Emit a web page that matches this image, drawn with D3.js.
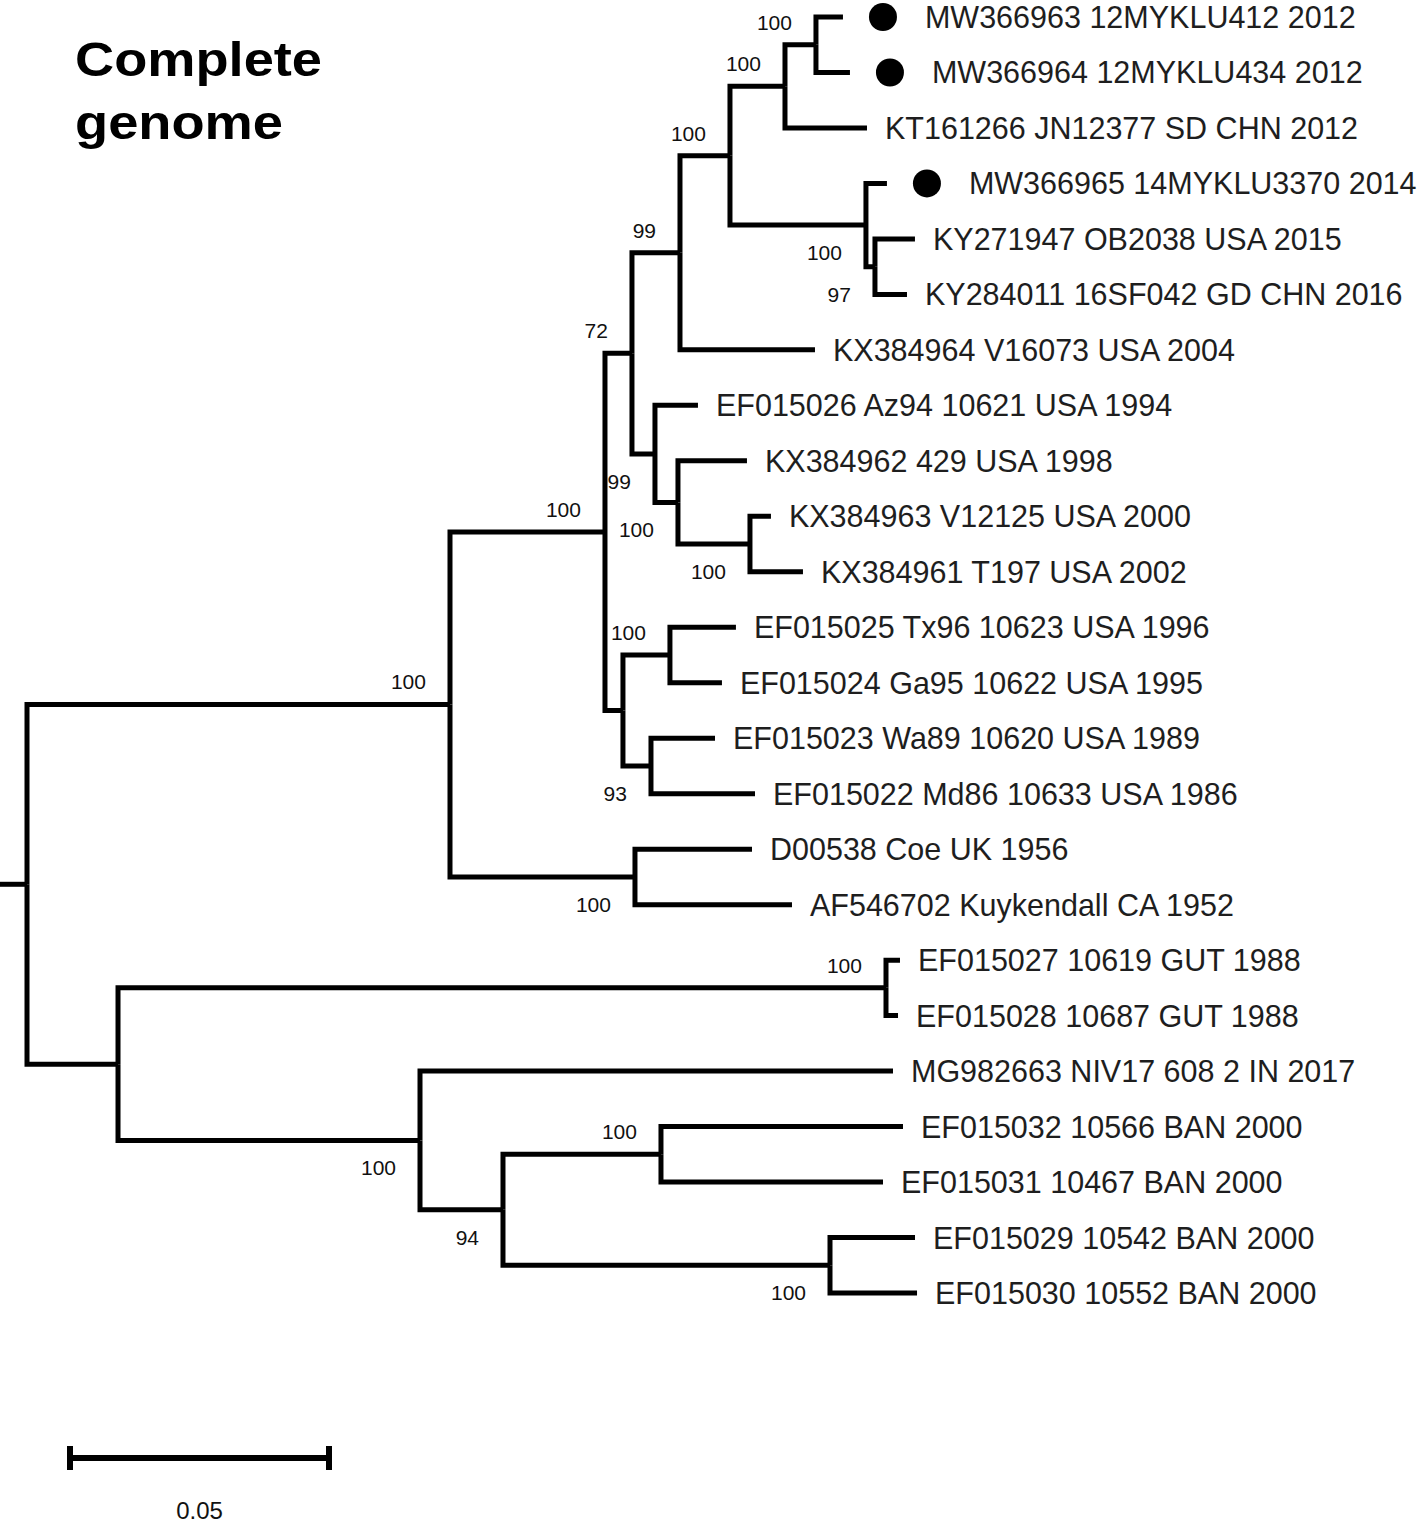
<!DOCTYPE html>
<html>
<head>
<meta charset="utf-8">
<script src="https://cdn.jsdelivr.net/npm/d3@7"></script>
<style>
  html, body { margin: 0; padding: 0; background: #fff; }
  svg { display: block; }
</style>
</head>
<body>
<svg id="chart" width="1418" height="1526"></svg>
<script>
// ---- DATA ----
const titleLines = ["Complete", "genome"];
const markedTaxa = ["MW366963 12MYKLU412 2012", "MW366964 12MYKLU434 2012", "MW366965 14MYKLU3370 2014"];
// [child, parent, branch length (subst./site), bootstrap]
const edges = [
  ["root", "", 0, null],
  ["A", "root", 0.08166, 100],
  ["B", "root", 0.01757, null],
  ["A1", "A", 0.02992, 100],
  ["Coe", "A", 0.03571, 100],
  ["C72", "A1", 0.00521, 72],
  ["G", "A1", 0.00347, null],
  ["C99", "C72", 0.00927, 99],
  ["Az", "C72", 0.00444, 99],
  ["C100a", "C99", 0.00965, 100],
  ["KX384964 V16073 USA 2004", "C99", 0.02606, null],
  ["C100b", "C100a", 0.01062, 100],
  ["C100c", "C100a", 0.02625, 100],
  ["MWpair", "C100b", 0.00598, 100],
  ["KT161266 JN12377 SD CHN 2012", "C100b", 0.01583, null],
  ["MW366963 12MYKLU412 2012", "MWpair", 0.00521, null],
  ["MW366964 12MYKLU434 2012", "MWpair", 0.00656, null],
  ["MW366965 14MYKLU3370 2014", "C100c", 0.00405, null],
  ["KYpair", "C100c", 0.00174, 97],
  ["KY271947 OB2038 USA 2015", "KYpair", 0.00772, null],
  ["KY284011 16SF042 GD CHN 2016", "KYpair", 0.00618, null],
  ["EF015026 Az94 10621 USA 1994", "Az", 0.00830, null],
  ["X1", "Az", 0.00444, 100],
  ["KX384962 429 USA 1998", "X1", 0.01332, null],
  ["X2", "X1", 0.01390, 100],
  ["KX384963 V12125 USA 2000", "X2", 0.00405, null],
  ["KX384961 T197 USA 2002", "X2", 0.01023, null],
  ["T", "G", 0.00907, 100],
  ["W", "G", 0.00541, 93],
  ["EF015025 Tx96 10623 USA 1996", "T", 0.01274, null],
  ["EF015024 Ga95 10622 USA 1995", "T", 0.01004, null],
  ["EF015023 Wa89 10620 USA 1989", "W", 0.01236, null],
  ["EF015022 Md86 10633 USA 1986", "W", 0.02008, null],
  ["D00538 Coe UK 1956", "Coe", 0.02259, null],
  ["AF546702 Kuykendall CA 1952", "Coe", 0.03031, null],
  ["GUT", "B", 0.14826, 100],
  ["I", "B", 0.05830, 100],
  ["EF015027 10619 GUT 1988", "GUT", 0.00270, null],
  ["EF015028 10687 GUT 1988", "GUT", 0.00232, null],
  ["MG982663 NIV17 608 2 IN 2017", "I", 0.09131, null],
  ["J", "I", 0.01602, 94],
  ["K", "J", 0.03050, 100],
  ["L", "J", 0.06313, 100],
  ["EF015032 10566 BAN 2000", "K", 0.04672, null],
  ["EF015031 10467 BAN 2000", "K", 0.04286, null],
  ["EF015029 10542 BAN 2000", "L", 0.01641, null],
  ["EF015030 10552 BAN 2000", "L", 0.01680, null]
];
const scaleBarValue = 0.05;
const scaleBarLabel = "0.05";

// ---- LAYOUT ----
const svg = d3.select("#chart");
const root = d3.stratify()
  .id(d => d[0])
  .parentId(d => d[1] || null)(edges);

root.eachBefore(n => { n.dist = n.parent ? n.parent.dist + n.data[2] : 0; });
const leaves = root.leaves();

const x = d3.scaleLinear().domain([0, scaleBarValue]).range([27, 27 + 259]);
const y = d3.scaleLinear().domain([0, leaves.length - 1]).range([17, 1293]);

leaves.forEach((l, i) => { l.py = y(i); });
root.eachAfter(n => {
  n.px = x(n.dist);
  if (n.children) n.py = (n.children[0].py + n.children[n.children.length - 1].py) / 2;
});

const ink = "#000";
const g = svg.append("g");

// root stub
g.append("line")
  .attr("x1", 0).attr("x2", root.px)
  .attr("y1", root.py).attr("y2", root.py)
  .attr("stroke", ink).attr("stroke-width", 5);

// branches (elbows)
g.selectAll("path.branch")
  .data(root.links())
  .join("path")
  .attr("class", "branch")
  .attr("fill", "none")
  .attr("stroke", ink)
  .attr("stroke-width", 5)
  .attr("stroke-linejoin", "miter")
  .attr("d", d => `M${d.source.px},${d.source.py}V${d.target.py}H${d.target.px}`);

// bootstrap labels
const internals = root.descendants().filter(n => n.children && n.parent && n.data[3] != null);
g.selectAll("text.boot")
  .data(internals)
  .join("text")
  .attr("class", "boot")
  .attr("x", n => n.px - 24)
  .attr("y", n => {
    const isFirst = n.parent.children[0] === n;
    return isFirst ? n.py - 15 : n.py + 35;
  })
  .attr("text-anchor", "end")
  .attr("font-family", "'Liberation Sans', Arial, sans-serif")
  .attr("font-size", 21)
  .attr("fill", "#111")
  .text(n => n.data[3]);

// markers
const marked = leaves.filter(l => markedTaxa.includes(l.id));
g.selectAll("circle.mark")
  .data(marked)
  .join("circle")
  .attr("class", "mark")
  .attr("cx", l => l.px + 40)
  .attr("cy", l => l.py)
  .attr("r", 14)
  .attr("fill", ink);

// leaf labels
g.selectAll("text.leaf")
  .data(leaves)
  .join("text")
  .attr("class", "leaf")
  .attr("x", l => l.px + (markedTaxa.includes(l.id) ? 82 : 18))
  .attr("y", l => l.py + 11)
  .attr("font-family", "'Liberation Sans', Arial, sans-serif")
  .attr("font-size", 30.5)
  .attr("fill", "#1e1e1e")
  .text(l => l.id);

// title
const titleWidths = [247, 208];
const titleY = [76, 139];
svg.selectAll("text.title")
  .data(titleLines)
  .join("text")
  .attr("class", "title")
  .attr("x", 75)
  .attr("y", (d, i) => titleY[i])
  .attr("font-family", "'Liberation Sans', Arial, sans-serif")
  .attr("font-weight", "bold")
  .attr("font-size", 48)
  .attr("textLength", (d, i) => titleWidths[i])
  .attr("lengthAdjust", "spacingAndGlyphs")
  .attr("fill", "#000")
  .text(d => d);

// scale bar
const sb = svg.append("g");
const sx0 = 70, sx1 = 70 + (x(scaleBarValue) - x(0)), sy = 1458;
sb.append("line").attr("x1", sx0).attr("x2", sx1).attr("y1", sy).attr("y2", sy)
  .attr("stroke", ink).attr("stroke-width", 6);
[sx0, sx1].forEach(px => {
  sb.append("line").attr("x1", px).attr("x2", px).attr("y1", sy - 12).attr("y2", sy + 12)
    .attr("stroke", ink).attr("stroke-width", 6);
});
sb.append("text")
  .attr("x", (sx0 + sx1) / 2)
  .attr("y", 1519)
  .attr("text-anchor", "middle")
  .attr("font-family", "'Liberation Sans', Arial, sans-serif")
  .attr("font-size", 24)
  .attr("fill", "#111")
  .text(scaleBarLabel);
</script>
</body>
</html>
